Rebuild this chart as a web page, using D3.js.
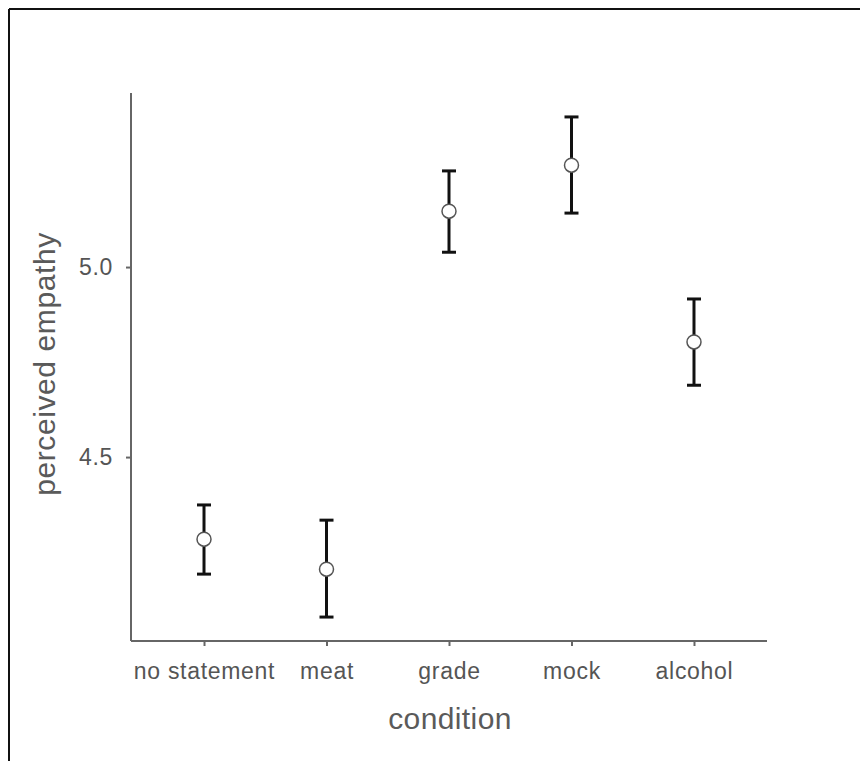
<!DOCTYPE html>
<html><head><meta charset="utf-8">
<script src="https://cdn.jsdelivr.net/npm/d3@7"></script>
<style>body{margin:0;background:#fff;} svg{display:block;}</style>
</head><body>
<svg id="chart" width="860" height="761"></svg>
<script>
const categories = ["no statement", "meat", "grade", "mock", "alcohol"];
const means = [4.284, 4.205, 5.147, 5.268, 4.803];
const lower = [4.192, 4.079, 5.039, 5.142, 4.689];
const upper = [4.374, 4.334, 5.253, 5.395, 4.916];
const yTicks = [4.5, 5.0];
const yDomain = [4.016, 5.458];

(function () {
const svg = d3.select("#chart");
const mL = 131, mR = 767, mT = 93, mB = 641;
const font = "Liberation Sans, Arial, sans-serif";

// outer frame (top and left edges visible)
svg.append("line").attr("x1", 9).attr("x2", 860).attr("y1", 9).attr("y2", 9).attr("stroke", "#111").attr("stroke-width", 2);
svg.append("line").attr("x1", 9).attr("x2", 9).attr("y1", 9).attr("y2", 761).attr("stroke", "#111").attr("stroke-width", 2);

const x = d3.scalePoint().domain(categories).range([mL, mR]).padding(0.596);
const y = d3.scaleLinear().domain(yDomain).range([mB, mT]);

const axisColor = "#666";
const xAxis = svg.append("g").attr("transform", `translate(0,${mB})`)
  .call(d3.axisBottom(x).tickSize(5).tickSizeOuter(0).tickPadding(17));
const yAxis = svg.append("g").attr("transform", `translate(${mL},0)`)
  .call(d3.axisLeft(y).tickValues(yTicks).tickFormat(d3.format(".1f")).tickSize(5).tickSizeOuter(0).tickPadding(13));
[xAxis, yAxis].forEach(g => {
  g.attr("font-size", null).attr("font-family", null);
  g.select(".domain").attr("stroke", axisColor).attr("stroke-width", 2);
  g.selectAll(".tick line").attr("stroke", axisColor).attr("stroke-width", 2);
  g.selectAll(".tick text").attr("fill", "#555").style("font-family", font)
    .style("font-size", "23px").style("letter-spacing", "0.7px");
});
xAxis.select(".domain").attr("d", `M${mL},0H${mR}`);
yAxis.select(".domain").attr("d", `M0,${mT}V${mB}`);

svg.append("text").attr("x", 450).attr("y", 729).attr("text-anchor", "middle")
  .style("font-family", font).style("font-size", "30px").style("letter-spacing", "0.4px").attr("fill", "#5a5a5a").text("condition");
svg.append("text").attr("transform", `translate(55,364) rotate(-90)`).attr("text-anchor", "middle")
  .style("font-family", font).style("font-size", "30px").style("letter-spacing", "0.6px").attr("fill", "#5a5a5a").text("perceived empathy");

const g = svg.append("g");
categories.forEach((c, i) => {
  const cx = x(c);
  g.append("line").attr("x1", cx).attr("x2", cx).attr("y1", y(lower[i])).attr("y2", y(upper[i]))
    .attr("stroke", "#111").attr("stroke-width", 3);
  [lower[i], upper[i]].forEach(v => {
    g.append("line").attr("x1", cx - 7).attr("x2", cx + 7).attr("y1", y(v)).attr("y2", y(v))
      .attr("stroke", "#111").attr("stroke-width", 3);
  });
  g.append("circle").attr("cx", cx).attr("cy", y(means[i])).attr("r", 7)
    .attr("fill", "#fff").attr("stroke", "#555").attr("stroke-width", 1.5);
});
})();
</script>
</body></html>
